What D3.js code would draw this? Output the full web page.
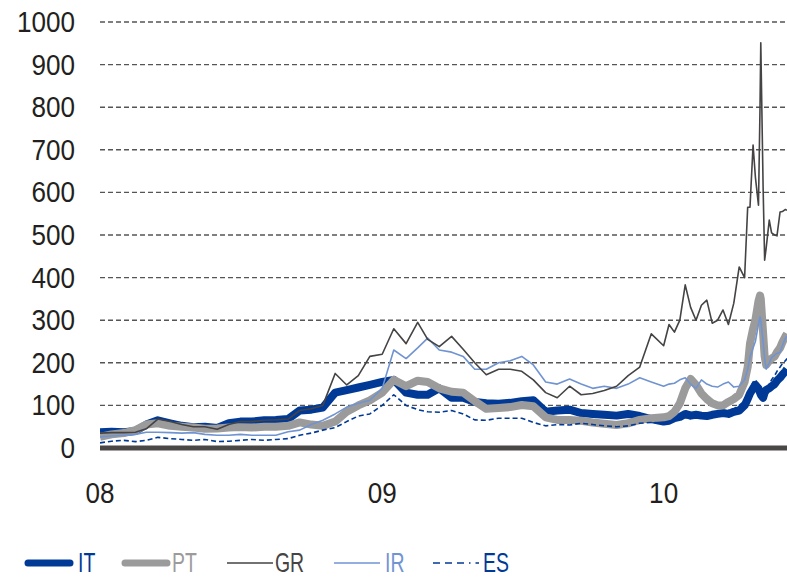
<html>
<head>
<script src="https://d3js.org/d3.v7.min.js" charset="utf-8"></script>
<style>
    body{ margin:0; background:#fff; }
    text{ font-family:'Liberation Sans', Arial, sans-serif; }
</style>
</head>
<body>
<script>
// sample dates (semi-monthly 2008-09, denser in 2010)
const dates = [
 '2008-01-01','2008-01-16','2008-02-01','2008-02-16','2008-03-01','2008-03-16','2008-04-01','2008-04-16',
 '2008-05-01','2008-05-16','2008-06-01','2008-06-16','2008-07-01','2008-07-16','2008-08-01','2008-08-16',
 '2008-09-01','2008-09-16','2008-10-01','2008-10-16','2008-11-01','2008-11-16','2008-12-01','2008-12-16',
 '2009-01-01','2009-01-16','2009-02-01','2009-02-16','2009-03-01','2009-03-16','2009-04-01','2009-04-16',
 '2009-05-01','2009-05-16','2009-06-01','2009-06-16','2009-07-01','2009-07-16','2009-08-01','2009-08-16',
 '2009-09-01','2009-09-16','2009-10-01','2009-10-16','2009-11-01','2009-11-16','2009-12-01','2009-12-16',
 '2010-01-01','2010-01-08','2010-01-15','2010-01-22','2010-01-29','2010-02-05','2010-02-12','2010-02-19',
 '2010-02-26','2010-03-05','2010-03-12','2010-03-19','2010-03-26','2010-04-02','2010-04-09','2010-04-16',
 '2010-04-20','2010-04-23','2010-04-27','2010-04-30','2010-05-04','2010-05-06','2010-05-07','2010-05-10',
 '2010-05-12','2010-05-14','2010-05-18','2010-05-21','2010-05-25','2010-05-28','2010-06-01','2010-06-04',
 '2010-06-08','2010-06-10'];

const IT = [37,38,37,40,55,65,58,52,49,50,47,58,62,62,65,66,68,88,90,95,130,136,142,148,
 155,160,130,125,125,140,118,118,108,105,104,106,110,112,85,88,90,82,80,78,76,80,75,68,
 62,64,70,73,80,76,78,76,75,78,80,82,80,85,88,100,115,128,140,148,140,130,125,118,130,136,140,145,150,158,165,172,180,185];

const PT = [26,32,35,42,55,58,52,50,48,45,46,48,49,48,50,50,52,60,55,52,62,85,100,112,
 130,160,145,158,155,140,132,130,110,92,94,96,101,98,72,66,66,64,60,57,54,58,66,70,
 72,75,85,105,140,162,148,128,115,105,100,100,108,115,125,155,190,245,280,300,345,358,350,270,215,195,205,210,215,225,235,248,262,268];

const GR = [35,36,36,37,45,68,62,55,50,50,44,55,62,62,65,66,68,88,92,100,175,148,170,215,
 220,280,245,295,255,238,262,232,200,172,185,185,180,160,130,118,145,125,128,135,145,170,190,268,
 240,290,272,300,383,330,300,335,347,293,300,324,290,340,425,400,565,565,711,636,570,800,951,613,441,470,535,505,500,498,554,555,560,558];

const IR = [26,28,30,32,37,37,36,35,36,32,30,30,32,30,30,30,38,42,55,65,80,96,105,112,
 140,230,210,235,258,230,225,215,185,185,200,205,215,195,155,150,162,150,140,145,140,150,165,155,
 145,150,152,160,165,150,140,160,150,145,143,150,155,143,145,160,185,214,235,250,290,308,300,250,210,185,200,212,218,222,225,240,258,262];

const ES = [12,16,18,15,18,25,22,20,18,20,15,16,18,20,18,20,22,30,35,42,48,62,75,80,
 100,125,100,90,85,84,88,80,66,65,70,70,70,60,52,55,54,58,55,52,50,52,58,60,
 58,62,65,70,72,70,75,78,75,80,82,85,88,92,100,110,125,140,155,160,150,140,130,125,130,140,150,160,170,180,190,198,205,210];

const yTicks = [0,100,200,300,400,500,600,700,800,900,1000];
const xTickDates = ['2008-01-01','2009-01-01','2010-01-01'];
const xTickLabels = ['08','09','10'];

const names = ['IT','PT','GR','IR','ES'];
const colors = {IT:'#003a96', PT:'#9b9b9b', GR:'#454343', IR:'#7094d2', ES:'#003a96'};
const widths = {IT:8, PT:8, GR:1.6, IR:1.6, ES:1.6};
const seriesData = {IT:IT, PT:PT, GR:GR, IR:IR, ES:ES};

const w = 787, h = 578;
const parse = d3.timeParse('%Y-%m-%d');

const svg = d3.select('body').append('svg').attr('width',w).attr('height',h);

const x = d3.scaleTime().domain([parse('2008-01-01'), parse('2010-06-10')]).range([100,787]);
const y = d3.scaleLinear().domain([0,1000]).range([448,22]);

// grid
svg.append('g').selectAll('line')
    .data(yTicks.filter(d=>d>0))
    .enter().append('line')
    .attr('x1',100).attr('x2',787)
    .attr('y1',d=>y(d)).attr('y2',d=>y(d))
    .attr('stroke','#555')
    .attr('stroke-width',1.4)
    .attr('stroke-dasharray','5,3');

// y labels
svg.append('g').selectAll('text')
    .data(yTicks)
    .enter().append('text')
    .attr('transform',d=>'translate(75,'+(y(d)+10)+') scale(0.9,1)')
    .attr('text-anchor','end')
    .attr('font-size',29)
    .attr('fill','#231f20')
    .text(d=>d);

// x labels
svg.append('g').selectAll('text')
    .data(xTickDates)
    .enter().append('text')
    .attr('transform',d=>'translate('+x(parse(d))+',503) scale(0.9,1)')
    .attr('text-anchor','middle')
    .attr('font-size',29)
    .attr('fill','#231f20')
    .text((d,i)=>xTickLabels[i]);

svg.append('clipPath').attr('id','plot')
    .append('rect').attr('x',100).attr('y',0).attr('width',687).attr('height',448);

const line = d3.line()
    .x((d,i)=>x(parse(dates[i])))
    .y(d=>y(d));

const g = svg.append('g').attr('clip-path','url(#plot)');
['IT','PT','ES','IR','GR'].forEach(function(n){
    g.append('path')
        .attr('d',line(seriesData[n]))
        .attr('fill','none')
        .attr('stroke',colors[n])
        .attr('stroke-width',widths[n])
        .attr('stroke-linejoin','round')
        .attr('stroke-dasharray',n=='ES'?'5,3':null);
});

// baseline
svg.append('line')
    .attr('x1',100).attr('x2',787)
    .attr('y1',y(0)).attr('y2',y(0))
    .attr('stroke','#4a4747')
    .attr('stroke-width',5);

// legend
const legX = [25,122,227,334,433];
const legTextX = [78,172,275,385,483];
const leg = svg.append('g');
names.forEach(function(n,i){
    const thick = widths[n]>3;
    leg.append('line')
        .attr('x1',legX[i]+(thick?3:0)).attr('x2',legX[i]+(thick?45:46))
        .attr('y1',563).attr('y2',563)
        .attr('stroke',colors[n])
        .attr('stroke-width',thick?7:1.6)
        .attr('stroke-linecap',thick?'round':'butt')
        .attr('stroke-dasharray',n=='ES'?'7,5,7,5,7,5,1.5,5':null);
    leg.append('text')
        .attr('transform','translate('+legTextX[i]+',572) scale(0.72,1)')
        .attr('font-size',27)
        .attr('fill',colors[n])
        .text(n);
});
</script>
</body>
</html>
